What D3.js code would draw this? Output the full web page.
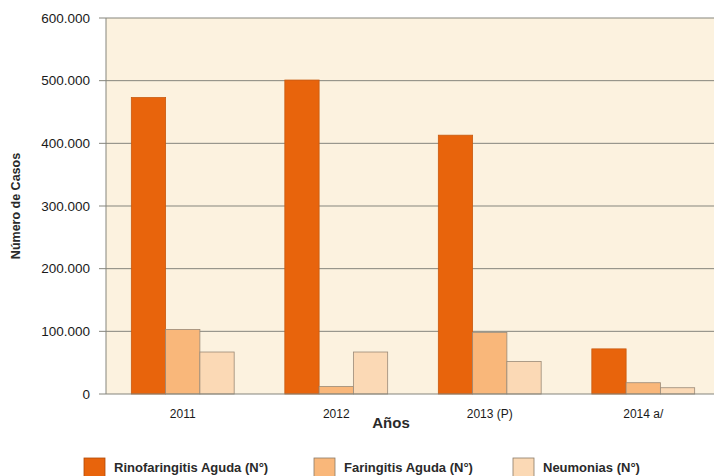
<!DOCTYPE html>
<html>
<head>
<meta charset="utf-8">
<script src="https://cdn.jsdelivr.net/npm/d3@7"></script>
<style>
  body { margin: 0; background: #fff; }
  svg { display: block; font-family: "Liberation Sans", Arial, sans-serif; }
</style>
</head>
<body>
<div id="chart"></div>
<script>
// data
var years = ["2011", "2012", "2013 (P)", "2014 a/"];
var seriesNames = ["Rinofaringitis Aguda (N°)", "Faringitis Aguda (N°)", "Neumonias (N°)"];
var rinofaringitis = [473000, 501000, 413000, 72000];
var faringitis = [103000, 12000, 98000, 18000];
var neumonias = [67000, 67000, 52000, 10000];
var yTicks = [0, 100000, 200000, 300000, 400000, 500000, 600000];

var colors = ["#e8640c", "#f9b77a", "#fbd9b5"];
var strokes = ["#c85a10", "#9a8a78", "#9a8a78"];

var width = 714, height = 476;
var margin = {left: 106, top: 18, right: -6, bottom: 82};
var plotW = width - margin.left - margin.right;
var plotH = height - margin.top - margin.bottom;

var svg = d3.select("#chart").append("svg")
  .attr("width", width)
  .attr("height", height);

var x = d3.scaleBand().domain(years).range([0, plotW]).paddingInner(0.33).paddingOuter(0.165);
var xs = d3.scaleBand().domain(seriesNames).range([0, x.bandwidth()]);
var y = d3.scaleLinear().domain([0, 600000]).range([plotH, 0]);

var fmt = function(d) { return d3.format(",")(d).replace(/,/g, "."); };

var g = svg.append("g").attr("transform", "translate(" + margin.left + "," + margin.top + ")");

g.append("rect")
  .attr("width", plotW).attr("height", plotH)
  .attr("fill", "#fcf2df");

// grid
g.selectAll(".grid").data(yTicks.slice(1)).enter().append("line")
  .attr("x1", -7).attr("x2", plotW)
  .attr("y1", function(d) { return y(d); })
  .attr("y2", function(d) { return y(d); })
  .attr("stroke", "#85857c").attr("stroke-width", 1);

var rows = [rinofaringitis, faringitis, neumonias];
var groups = g.selectAll(".year").data(years).enter().append("g")
  .attr("transform", function(d) { return "translate(" + x(d) + ",0)"; });

groups.selectAll("rect").data(function(d, i) {
    return seriesNames.map(function(s, j) { return {s: s, j: j, v: rows[j][i]}; });
  })
  .enter().append("rect")
  .attr("x", function(d) { return xs(d.s); })
  .attr("width", xs.bandwidth())
  .attr("y", function(d) { return y(d.v); })
  .attr("height", function(d) { return plotH - y(d.v); })
  .attr("fill", function(d) { return colors[d.j]; })
  .attr("stroke", function(d) { return strokes[d.j]; })
  .attr("stroke-width", 0.8);

// axes
g.append("line").attr("x1", 0).attr("x2", 0).attr("y1", 0).attr("y2", plotH)
  .attr("stroke", "#85857c");
g.append("line").attr("x1", -7).attr("x2", plotW).attr("y1", plotH).attr("y2", plotH)
  .attr("stroke", "#85857c");

var yAxis = d3.axisLeft(y).tickValues(yTicks).tickFormat(fmt).tickSize(0).tickPadding(16);
var ya = g.append("g").call(yAxis);
ya.select(".domain").remove();
ya.selectAll("text").attr("font-size", 13.5).attr("fill", "#1a1a1a");

var xAxis = d3.axisBottom(x).tickSize(0).tickPadding(15);
var xa = g.append("g").attr("transform", "translate(0," + plotH + ")").call(xAxis);
xa.select(".domain").remove();
xa.selectAll("text").attr("font-size", 12).attr("fill", "#1a1a1a");

svg.append("text")
  .attr("transform", "translate(20," + (margin.top + plotH / 2) + ") rotate(-90)")
  .attr("text-anchor", "middle")
  .attr("font-size", 12.5).attr("font-weight", "bold").attr("fill", "#2a2a2a")
  .text("Número de Casos");

svg.append("text")
  .attr("x", 391).attr("y", 428)
  .attr("text-anchor", "middle")
  .attr("font-size", 15).attr("font-weight", "bold").attr("fill", "#2a2a2a")
  .text("Años");

// legend
var legendX = [84, 314, 513];
var leg = svg.selectAll(".leg").data(seriesNames).enter().append("g")
  .attr("transform", function(d, i) { return "translate(" + legendX[i] + ",458)"; });
leg.append("rect")
  .attr("width", 21).attr("height", 20)
  .attr("fill", function(d, i) { return colors[i]; })
  .attr("stroke", function(d, i) { return i === 0 ? "#b04a08" : "#8a7a68"; })
  .attr("stroke-width", 0.8);
leg.append("text")
  .attr("x", 30).attr("y", 14)
  .attr("font-size", 13).attr("font-weight", "bold").attr("fill", "#2a2a2a")
  .text(function(d) { return d; });
</script>
</body>
</html>
